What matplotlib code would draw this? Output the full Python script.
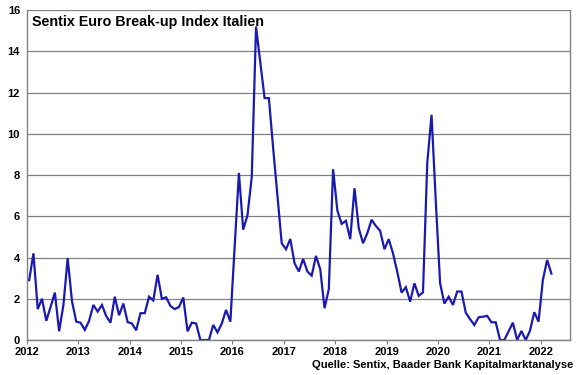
import numpy as np
import matplotlib
matplotlib.use('Agg')
import matplotlib.pyplot as plt

plt.rcParams['font.family'] = ['Liberation Sans', 'DejaVu Sans']

# monatliche Werte Jan 2012 - Mär 2022
v2012 = [2.9, 4.2, 1.5, 2.0, 0.93, 1.6, 2.3, 0.42, 1.7, 3.97, 1.88, 0.89]
v2013 = [0.84, 0.49, 0.93, 1.7, 1.38, 1.7, 1.16, 0.84, 2.1, 1.2, 1.77, 0.87]
v2014 = [0.8, 0.47, 1.3, 1.3, 2.1, 1.92, 3.16, 2.0, 2.07, 1.65, 1.5, 1.6]
v2015 = [2.06, 0.42, 0.84, 0.8, 0.0, 0.0, 0.0, 0.73, 0.37, 0.8, 1.46, 0.89]
v2016 = [4.5, 8.1, 5.35, 6.05, 7.9, 15.2, 13.45, 11.73, 11.73, 9.3, 7.0, 4.69]
v2017 = [4.4, 4.9, 3.72, 3.32, 3.93, 3.32, 3.12, 4.08, 3.43, 1.54, 2.46, 8.28]
v2018 = [6.28, 5.63, 5.78, 4.89, 7.36, 5.42, 4.69, 5.18, 5.83, 5.53, 5.29, 4.4]
v2019 = [4.89, 4.2, 3.3, 2.3, 2.56, 1.86, 2.75, 2.14, 2.31, 8.58, 10.92, 6.7]
v2020 = [2.75, 1.77, 2.1, 1.7, 2.35, 2.35, 1.32, 1.01, 0.73, 1.1, 1.13, 1.17]
v2021 = [0.86, 0.86, 0.0, 0.0, 0.42, 0.84, 0.0, 0.44, 0.0, 0.45, 1.35, 0.89]
v2022 = [2.9, 3.88, 3.22]

values = v2012 + v2013 + v2014 + v2015 + v2016 + v2017 + v2018 + v2019 + v2020 + v2021 + v2022
years = list(range(2012, 2023))
yticks = list(range(0, 17, 2))

x = 2012 + (np.arange(len(values)) + 0.5) / 12

fig = plt.figure(figsize=(5.8, 3.75), dpi=100)
ax = fig.add_axes([0.0466, 0.0933, 0.9370, 0.880])

ax.plot(x, values, color='#1a1ab0', linewidth=1.6, solid_joinstyle='miter')

ax.set_xlim(2012, 2022.58)
ax.set_ylim(0, 16)
ax.set_yticks(yticks)
ax.set_xticks(years)
ax.set_xticklabels([str(y) for y in years])
ax.grid(axis='y', color='#808080', linewidth=0.9)
ax.set_axisbelow(True)

for s in ['left', 'bottom', 'right']:
    ax.spines[s].set_color('#808080')
    ax.spines[s].set_linewidth(1.0)
ax.spines['top'].set_visible(False)

ax.tick_params(axis='y', length=0, pad=5, labelsize=8)
ax.tick_params(axis='x', length=3, color='#808080', pad=2, labelsize=8)
for lab in ax.get_xticklabels() + ax.get_yticklabels():
    lab.set_fontweight('bold')

ax.text(0.01, 0.965, 'Sentix Euro Break-up Index Italien', transform=ax.transAxes,
        fontsize=10.3, fontweight='bold', ha='left', va='center')

fig.text(0.988, 0.027, 'Quelle: Sentix, Baader Bank Kapitalmarktanalyse',
         fontsize=8, fontweight='bold', ha='right', va='center')

plt.savefig('out.png', dpi=100)
